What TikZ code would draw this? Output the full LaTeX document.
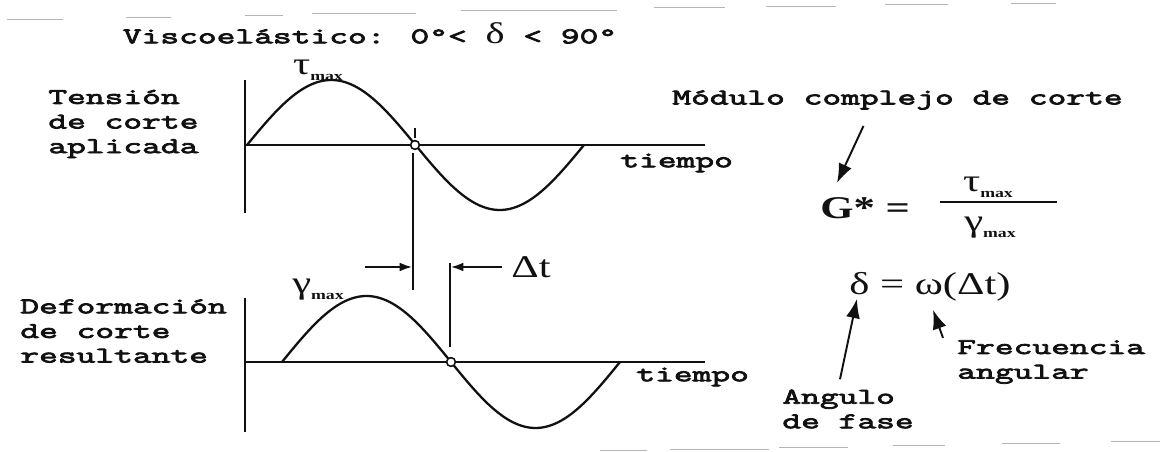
\documentclass[tikz,border=0pt]{standalone}
\usepackage{fontspec}
\usetikzlibrary{arrows.meta}
\newfontfamily\labelfont{Latin Modern Mono}[FakeStretch=1.62,FakeBold=3.5]
\newfontfamily\formfont{Liberation Serif}[FakeStretch=1.35]
\definecolor{ink}{HTML}{111111}
\definecolor{scanline}{HTML}{B4B4B4}
\newcommand{\maxsub}{\raisebox{-0.4ex}{\fontsize{7.5}{7.5}\selectfont\bfseries max}}

\begin{document}
\begin{tikzpicture}[x=0.02cm,y=-0.02cm,
  lbl/.style={font=\labelfont\fontsize{12.8}{14}\selectfont,inner sep=0pt,text=ink},
  form/.style={font=\formfont\fontsize{18}{20}\selectfont,inner sep=0pt,text=ink},
  axis/.style={ink,line width=1.7pt},
  wave/.style={ink,line width=1.3pt},
  dimline/.style={ink,line width=1.1pt},
  zero/.style={circle,draw=ink,line width=0.9pt,fill=white,inner sep=0pt,minimum size=5pt},
  pointer/.style={ink,line width=1.1pt,-{Latex[length=11pt,width=8pt]}},
  dimarrow/.style={ink,line width=1pt,-{Latex[length=7pt,width=5pt]}}]
  \useasboundingbox (0,0) rectangle (1160,452);
  \foreach \xa/\xb/\ya in {7/63/19,126/171/17,245/283/15,312/416/13,461/617/10,654/725/7,766/836/6,885/948/4,1011/1056/3,
                           600/647/450,670/769/449,779/848/447,893/945/445,1002/1060/443,1111/1160/441}
    \draw[scanline,line width=0.5pt] (\xa,\ya) -- (\xb,\ya);
  \node[lbl] (title) at (370,33) {Viscoelástico: 0°< {\formfont\fontsize{17}{17}\selectfont δ} < 90°};
  % tension aplicada
  \draw[axis] (245,80) -- (245,213);
  \draw[axis] (245,145) -- (705,145);
  \draw[wave] plot[domain=0:360,samples=73,smooth] ({247+\x/360*337},{145-65*sin(\x)});
  \node[zero] (cross1) at (415,145) {};
  \node[form] (taumax) at (318,70) {τ\maxsub};
  \node[lbl,anchor=west,align=left] (tension) at (48,124) {Tensión\\de corte\\aplicada};
  \node[lbl,anchor=west] (tiempo1) at (620,163) {tiempo};
  % deformacion resultante
  \draw[axis] (245,298) -- (245,432);
  \draw[axis] (245,362) -- (705,362);
  \draw[wave] plot[domain=0:360,samples=73,smooth] ({282+\x/360*338},{362-66*sin(\x)});
  \node[zero] (cross2) at (451,362) {};
  \node[form] (gammamax) at (318,290) {γ\maxsub};
  \node[lbl,anchor=west,align=left] (deform) at (20,331) {Deformación\\de corte\\resultante};
  \node[lbl,anchor=west] (tiempo2) at (636,377) {tiempo};
  % desfase
  \coordinate (lead) at (413,290);
  \coordinate (lag) at (450,263);
  \coordinate (ldim) at (412,267);
  \coordinate (rdim) at (451,267);
  \draw[dimline] (415,128) -- (415,138);
  \draw[dimline] (413,153) -- (lead);
  \draw[dimline] (lag) -- (450,347);
  \node[form] (dt) at (531,267) {Δt};
  \draw[dimarrow] (365,267) -- (ldim);
  \draw[dimarrow,shorten <=5pt] (dt.west) -- (rdim);
  % formulas
  \node[lbl,anchor=west] (modulo) at (672,100) {Módulo complejo de corte};
  \node[form,anchor=west] (gstar) at (820,208) {\bfseries G* =};
  \node[form] (num) at (988,187) {τ\maxsub};
  \node[form] (den) at (990,228) {γ\maxsub};
  \draw[ink,line width=1.1pt] (940,202) -- (1057,202);
  \node[form] (phase) at (930,287) {δ = ω(Δt)};
  \node[lbl,anchor=west,align=left] (freq) at (957,362) {Frecuencia\\angular};
  \node[lbl,anchor=west,align=left] (angulo) at (782,409) {Angulo\\de fase};
  \draw[pointer] ([shift={(-34,16)}]modulo.south) -- ([shift={(17,-14)}]gstar.north west);
  \draw[pointer] ([shift={(58,-10)}]angulo.north west) -- ([shift={(-73,-3)}]phase.south);
  \draw[pointer] ([shift={(-14,-2)}]freq.north west) -- ([shift={(3,8)}]phase.south);
\end{tikzpicture}
\end{document}
